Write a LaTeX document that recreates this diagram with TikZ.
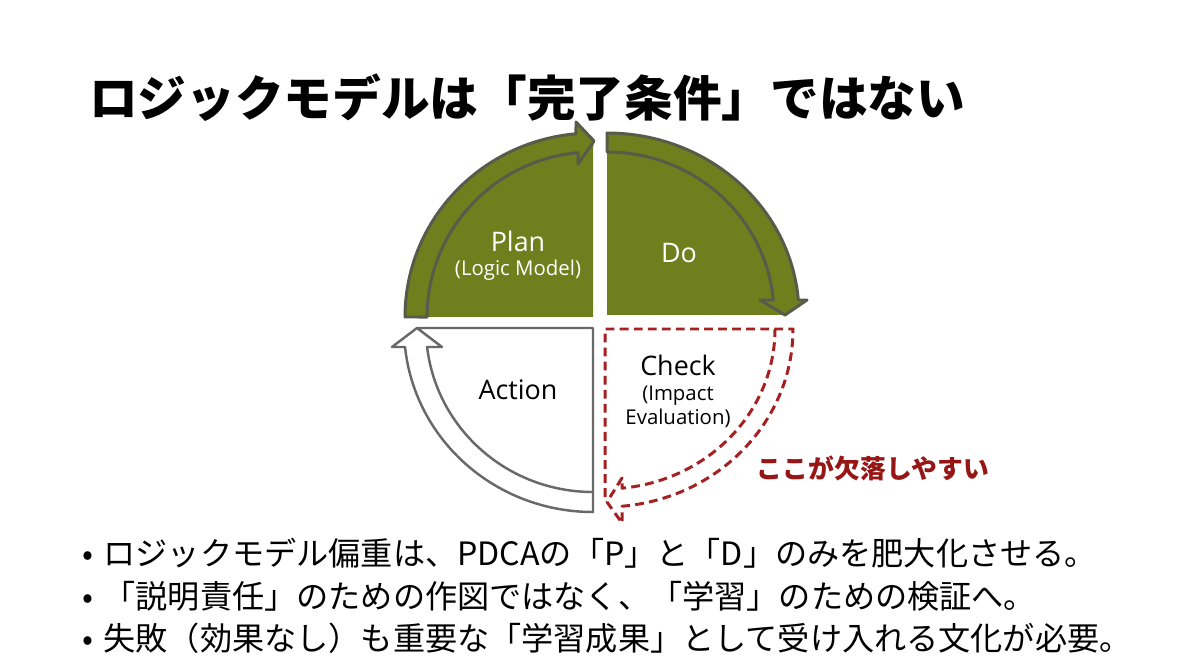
\documentclass[tikz,border=0pt]{standalone}
\usepackage{fontspec}
\newfontfamily\jp{Noto Sans CJK JP}
\newfontfamily\lat{Open Sans}
\usetikzlibrary{positioning}
\definecolor{pdcaolive}{RGB}{112,127,30}
\definecolor{bandgray}{RGB}{88,90,74}
\definecolor{actgray}{RGB}{105,105,105}
\definecolor{checkred}{RGB}{165,32,32}
\definecolor{notered}{RGB}{150,22,22}

\begin{document}
\begin{tikzpicture}[x=0.02cm, y=0.02cm,
    band/.style={draw=bandgray, line width=1.7pt, line join=round},
    actline/.style={draw=actgray, line width=1.4pt, line join=round},
    checkline/.style={draw=checkred, line width=1.7pt, dash pattern=on 5pt off 3pt, line join=round},
    big/.style={font=\lat\fontsize{15.3}{18}\selectfont},
    small/.style={font=\lat\fontsize{11.6}{13.8}\selectfont, align=center},
    bul/.style={anchor=west, font=\jp\fontsize{18.3}{22}\selectfont}]
    \useasboundingbox (0,0) rectangle (1200,670);
    \node[anchor=west, font=\jp\bfseries\fontsize{27.7}{33}\selectfont] (title) at (83,572) {ロジックモデルは「完了条件」ではない};
    % Plan
    \begin{scope}[shift={(593,353)}]
      \fill[pdcaolive] (0,0) -- (-188,0) arc[start angle=180, end angle=95.2, x radius=188, y radius=184]
        -- (-17,195) -- (1,176) -- (0,168) -- cycle;
      \draw[band] (-188,0) arc[start angle=180, end angle=95.2, x radius=188, y radius=184]
        -- (-17,195) -- (1,176) -- (-15,153) -- (-15,164.3)
        arc[start angle=95.2, end angle=180, x radius=166, y radius=165] -- cycle;
    \end{scope}
    % Do
    \begin{scope}[shift={(607,355)}]
      \fill[pdcaolive] (0,0) -- (0,182) arc[start angle=90, end angle=4.73, x radius=192, y radius=182]
        -- (200,15) -- (178,0) -- cycle;
      \draw[band] (0,182) arc[start angle=90, end angle=4.73, x radius=192, y radius=182]
        -- (200,15) -- (178,0) -- (153,15) -- (166.3,15)
        arc[start angle=5.28, end angle=90, x radius=167, y radius=163] -- cycle;
    \end{scope}
    % Check
    \begin{scope}[shift={(605,341)}]
      \draw[checkline] (0,-168) -- (0,0) -- (188,0) arc[start angle=0, end angle=-84.8, x radius=188, y radius=178]
        -- (17,-194) -- (2,-173) -- (17,-149) -- (17,-159.2)
        arc[start angle=-84.26, end angle=0, x radius=170, y radius=160];
    \end{scope}
    % Action
    \begin{scope}[shift={(593,342)}]
      \draw[actline] (-176,0) -- (0,0) -- (0,-184) arc[start angle=270, end angle=185.93, x radius=189, y radius=184]
        -- (-201,-19) -- (-176,0) -- (-151,-19) -- (-165.9,-19)
        arc[start angle=186.65, end angle=270, x radius=167, y radius=164];
    \end{scope}
    \node[big, text=white] (plan) at (518,429) {Plan};
    \node[small, text=white, below=-2pt of plan] (plansub) {(Logic Model)};
    \node[big, text=white] (do) at (679,417) {Do};
    \node[big] (action) at (518,280) {Action};
    \node[big] (check) at (678,305) {Check};
    \node[small, below=-1pt of check] (checksub) {(Impact\\Evaluation)};
    \node[text=notered, font=\jp\bfseries\fontsize{14.7}{17}\selectfont] (note) at (873,202) {ここが欠落しやすい};
    \node[bul] (b1) at (76,117) {•\hspace{6pt}ロジックモデル偏重は、PDCAの「P」と「D」のみを肥大化させる。};
    \node[bul] (b2) at (76,74) {•\hspace{6pt}「説明責任」のための作図ではなく、「学習」のための検証へ。};
    \node[bul] (b3) at (76,32) {•\hspace{6pt}失敗（効果なし）も重要な「学習成果」として受け入れる文化が必要。};
\end{tikzpicture}
\end{document}
